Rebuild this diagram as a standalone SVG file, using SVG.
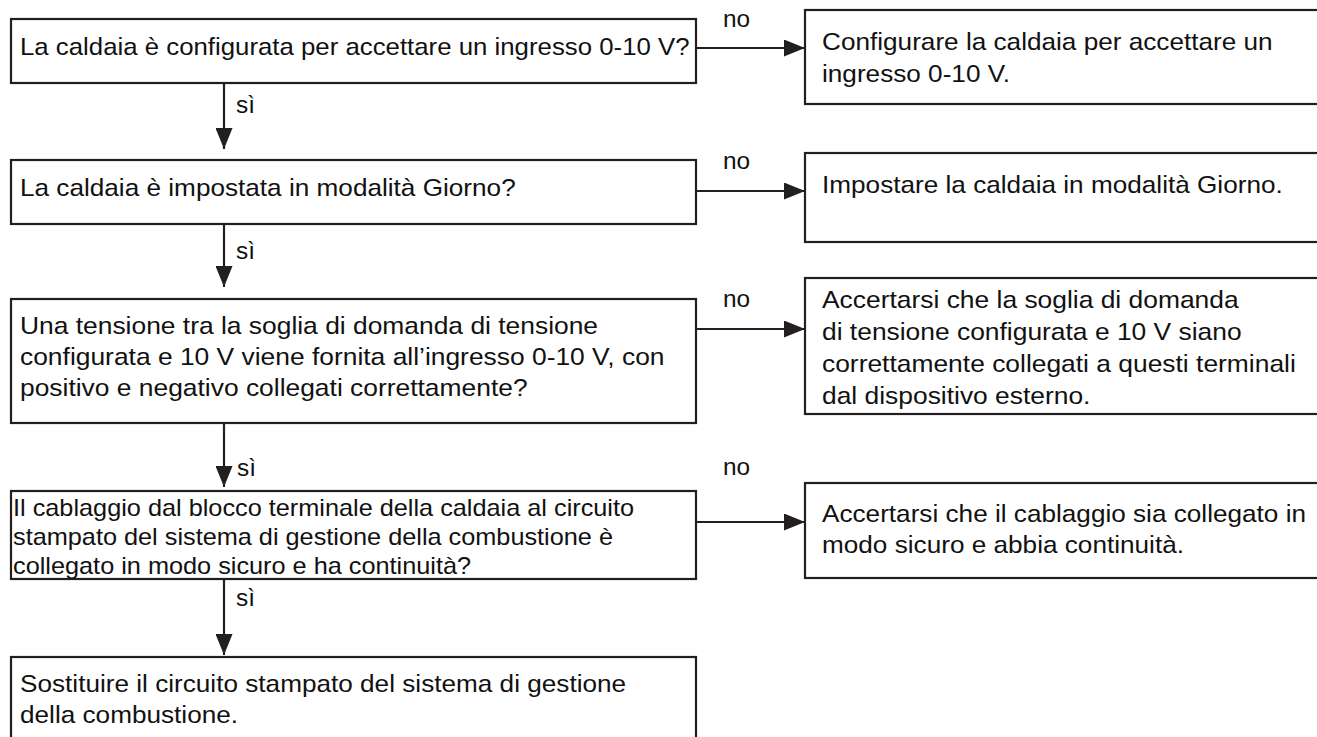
<svg xmlns="http://www.w3.org/2000/svg" width="1317" height="737" viewBox="0 0 1317 737">
<defs>
<style>
.box{fill:#fff;stroke:#231f20;stroke-width:2.2}
.t{font-family:"Liberation Sans",Arial,sans-serif;font-size:24px;fill:#111}
.t4{font-family:"Liberation Sans",Arial,sans-serif;font-size:23px;fill:#111}
.lbl{font-family:"Liberation Sans",Arial,sans-serif;font-size:23px;fill:#111}
.conn{stroke:#231f20;stroke-width:2.2;fill:none;marker-end:url(#ah)}
</style>
<marker id="ah" viewBox="0 0 21 17" refX="21" refY="8.5" markerWidth="21" markerHeight="17" markerUnits="userSpaceOnUse" orient="auto">
<path d="M0,0 L21,8.5 L0,17 Z" fill="#231f20"/>
</marker>
</defs>
<rect width="1317" height="737" fill="#fff"/>

<g id="connectors">
<line class="conn" x1="224" y1="83" x2="224" y2="149"/>
<line class="conn" x1="224" y1="224" x2="224" y2="287"/>
<line class="conn" x1="224" y1="423" x2="224" y2="487"/>
<line class="conn" x1="224" y1="579" x2="224" y2="655"/>
<line class="conn" x1="696" y1="48" x2="805" y2="48"/>
<line class="conn" x1="696" y1="191" x2="805" y2="191"/>
<line class="conn" x1="696" y1="329" x2="805" y2="329"/>
<line class="conn" x1="696" y1="522" x2="805" y2="522"/>
<text class="lbl" transform="translate(236 113) scale(1.06 1)">sì</text>
<text class="lbl" transform="translate(236 259) scale(1.06 1)">sì</text>
<text class="lbl" transform="translate(237 476) scale(1.06 1)">sì</text>
<text class="lbl" transform="translate(236 606) scale(1.06 1)">sì</text>
<text class="lbl" transform="translate(723 27) scale(1.06 1)">no</text>
<text class="lbl" transform="translate(723 169) scale(1.06 1)">no</text>
<text class="lbl" transform="translate(723 307) scale(1.06 1)">no</text>
<text class="lbl" transform="translate(723 475) scale(1.06 1)">no</text>
</g>

<g id="q1">
<rect class="box" x="11" y="19" width="685" height="64"/>
<text class="t" transform="translate(20 55) scale(1.075 1)">La caldaia è configurata per accettare un ingresso 0-10 V?</text>
</g>
<g id="a1">
<rect class="box" x="805" y="10" width="530" height="94"/>
<text class="t" transform="translate(822 50) scale(1.09 1)"><tspan x="0" y="0">Configurare la caldaia per accettare un</tspan><tspan x="0" y="32">ingresso 0-10 V.</tspan></text>
</g>

<g id="q2">
<rect class="box" x="11" y="160" width="685" height="64"/>
<text class="t" transform="translate(20 196) scale(1.09 1)">La caldaia è impostata in modalità Giorno?</text>
</g>
<g id="a2">
<rect class="box" x="805" y="153" width="530" height="89"/>
<text class="t" transform="translate(822 193) scale(1.09 1)">Impostare la caldaia in modalità Giorno.</text>
</g>

<g id="q3">
<rect class="box" x="11" y="299" width="685" height="124"/>
<text class="t" transform="translate(20 334) scale(1.1 1)"><tspan x="0" y="0">Una tensione tra la soglia di domanda di tensione</tspan><tspan x="0" y="31">configurata e 10 V viene fornita all’ingresso 0-10 V, con</tspan><tspan x="0" y="62">positivo e negativo collegati correttamente?</tspan></text>
</g>
<g id="a3">
<rect class="box" x="805" y="278" width="530" height="136"/>
<text class="t" transform="translate(822 308) scale(1.1 1)"><tspan x="0" y="0">Accertarsi che la soglia di domanda</tspan><tspan x="0" y="32">di tensione configurata e 10 V siano</tspan><tspan x="0" y="64">correttamente collegati a questi terminali</tspan><tspan x="0" y="96">dal dispositivo esterno.</tspan></text>
</g>

<g id="q4">
<rect class="box" x="11" y="491" width="685" height="88"/>
<text class="t4" transform="translate(13 516) scale(1.1 1)"><tspan x="0" y="0">Il cablaggio dal blocco terminale della caldaia al circuito</tspan><tspan x="0" y="29">stampato del sistema di gestione della combustione è</tspan><tspan x="0" y="58">collegato in modo sicuro e ha continuità?</tspan></text>
</g>
<g id="a4">
<rect class="box" x="805" y="483" width="530" height="95"/>
<text class="t" transform="translate(822 522) scale(1.09 1)"><tspan x="0" y="0">Accertarsi che il cablaggio sia collegato in</tspan><tspan x="0" y="31">modo sicuro e abbia continuità.</tspan></text>
</g>

<g id="r5">
<rect class="box" x="11" y="657" width="685" height="110"/>
<text class="t" transform="translate(20 692) scale(1.09 1)"><tspan x="0" y="0">Sostituire il circuito stampato del sistema di gestione</tspan><tspan x="0" y="31">della combustione.</tspan></text>
</g>
</svg>
